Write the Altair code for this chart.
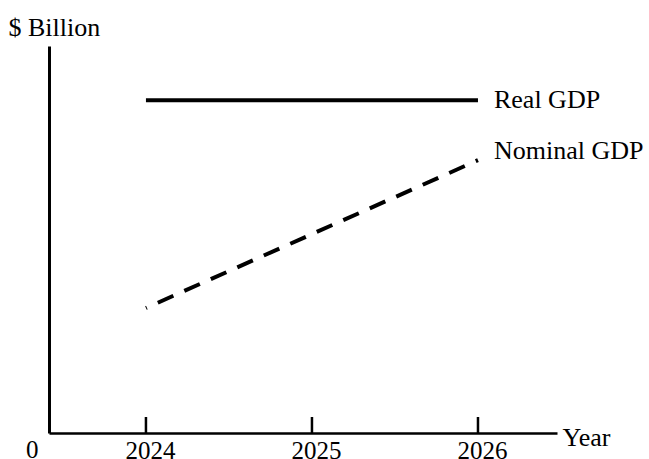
import altair as alt
import pandas as pd

# ---- data ----
years = [2024, 2025, 2026]
real_gdp = [86.0, 86.0, 86.0]
nominal_gdp = [32.3, 51.4, 70.5]
series_names = ["Real GDP", "Nominal GDP"]
label_dy = [0, -9]
x_domain = [2023.416, 2026.476]
y_domain = [0, 100]

rows = []
for yr, r, n in zip(years, real_gdp, nominal_gdp):
    rows.append({"year": yr, "value": r, "series": series_names[0]})
    rows.append({"year": yr, "value": n, "series": series_names[1]})
df = pd.DataFrame(rows)
ticks_df = pd.DataFrame({"year": years})

# ---- style ----
FONT = "Liberation Serif, Times New Roman, serif"
FS = 25
PLOT_W, PLOT_H = 508, 387
TICK_LEN = 16

xs = alt.Scale(domain=x_domain, nice=False, zero=False)
ys = alt.Scale(domain=y_domain, nice=False, zero=False)

x_axis = alt.Axis(
    values=years, format="d", title="Year",
    titleX=513, titleY=12, titleAlign="left", titleBaseline="alphabetic",
    titleFont=FONT, titleFontSize=FS + 1, titleFontWeight="normal", titleColor="black",
    labelFont=FONT, labelFontSize=FS, labelColor="black", labelPadding=5, labelOffset=4,
    labelFlush=False, labelOverlap=False,
    ticks=False, tickSize=0, grid=False,
    domainColor="black", domainWidth=2.5,
)
y_axis = alt.Axis(
    values=[0], labelExpr="'0'", title="$ Billion",
    titleAngle=0, titleX=-41, titleY=-11, titleAlign="left", titleBaseline="alphabetic",
    titleFont=FONT, titleFontSize=FS + 1, titleFontWeight="normal", titleColor="black",
    labelFont=FONT, labelFontSize=FS, labelColor="black", labelPadding=11,
    labelOffset=24, labelBaseline="alphabetic", labelFlush=False,
    ticks=False, tickSize=0, grid=False,
    domainColor="black", domainWidth=3,
)

base = alt.Chart(df)

real_line = base.transform_filter(alt.datum.series == series_names[0]).mark_line(
    color="black", strokeWidth=4, strokeCap="butt"
).encode(
    x=alt.X("year:Q", scale=xs, axis=x_axis),
    y=alt.Y("value:Q", scale=ys, axis=y_axis),
)

nominal_line = base.transform_filter(alt.datum.series == series_names[1]).mark_line(
    color="black", strokeWidth=4, strokeCap="butt", strokeDash=[17, 12], strokeDashOffset=16
).encode(
    x=alt.X("year:Q", scale=xs),
    y=alt.Y("value:Q", scale=ys),
)

tick_marks = alt.Chart(ticks_df).mark_rule(color="black", strokeWidth=2.5).encode(
    x=alt.X("year:Q", scale=xs),
    y=alt.value(PLOT_H),
    y2=alt.value(PLOT_H - TICK_LEN),
)

label_layers = []
for name, dy in zip(series_names, label_dy):
    label_layers.append(
        base.transform_filter(
            (alt.datum.year == years[-1]) & (alt.datum.series == name)
        ).mark_text(
            align="left", baseline="middle", dx=16, dy=dy,
            font=FONT, fontSize=FS + 1, color="black"
        ).encode(
            x=alt.X("year:Q", scale=xs),
            y=alt.Y("value:Q", scale=ys),
            text="series:N",
        )
    )

chart = alt.layer(real_line, nominal_line, tick_marks, *label_layers).properties(
    width=PLOT_W, height=PLOT_H,
    padding={"left": 49, "top": 46, "right": 92, "bottom": 26},
    autosize=alt.AutoSizeParams(type="none"),
    background="white",
).configure_view(stroke=None)

chart.save("out.html", embed_options={"renderer": "svg", "actions": False})
